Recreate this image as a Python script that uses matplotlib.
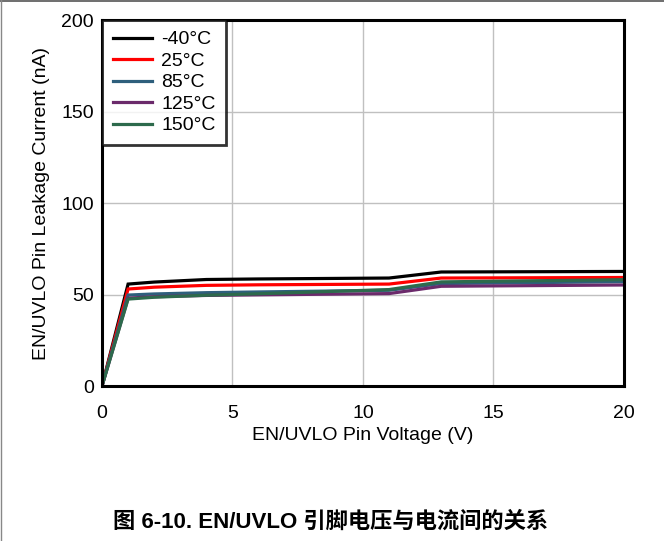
"""EN/UVLO pin leakage current versus pin voltage at several temperatures."""

import matplotlib.pyplot as plt
from matplotlib.lines import Line2D

plt.rcParams["font.family"] = ["Liberation Sans", "Noto Sans CJK SC", "DejaVu Sans"]

voltage_v = [0, 1, 2, 4, 6, 11, 13, 20]

leak_m40c = [0, 55.7, 56.8, 58.2, 58.5, 59.0, 62.3, 62.6]
leak_25c = [0, 53.0, 54.0, 55.0, 55.3, 55.7, 59.0, 59.3]
leak_85c = [0, 49.7, 50.3, 51.0, 51.4, 52.3, 56.0, 57.0]
leak_125c = [0, 48.0, 48.8, 49.5, 49.8, 50.5, 54.5, 55.2]
leak_150c = [0, 47.5, 48.5, 49.6, 50.4, 52.7, 56.9, 58.1]

series_labels = ["-40°C", "25°C", "85°C", "125°C", "150°C"]
series_colors = ["#000000", "#ff0000", "#2e5f7c", "#6b2a6b", "#2d6a4c"]

x_ticks = [0, 5, 10, 15, 20]
y_ticks = [0, 50, 100, 150, 200]

fig = plt.figure(figsize=(6.64, 5.41), dpi=100)
ax = fig.add_axes([0.1536, 0.2865, 0.786, 0.6765])

series = [leak_m40c, leak_25c, leak_85c, leak_125c, leak_150c]
for values, label, color in zip(series, series_labels, series_colors):
    ax.plot(voltage_v, values, color=color, linewidth=2.3, label=label,
            solid_joinstyle="miter")

ax.set_xlim(0, 20)
ax.set_ylim(0, 200)
ax.set_xticks(x_ticks)
ax.set_yticks(y_ticks)
ax.tick_params(axis="x", length=0, labelsize=14, pad=14)
ax.tick_params(axis="y", length=0, labelsize=14, pad=6)
ax.grid(color="#c0c0c0", linewidth=1.0)
ax.set_axisbelow(True)
for spine in ax.spines.values():
    spine.set_linewidth(2.2)

ax.set_xlabel("EN/UVLO Pin Voltage (V)", fontsize=14, labelpad=3)
ax.set_ylabel("EN/UVLO Pin Leakage Current (nA)", fontsize=14, labelpad=8)

leg = ax.legend(loc="upper left", fontsize=14, frameon=True, fancybox=False,
                borderaxespad=0, handlelength=2.0, handletextpad=0.5,
                labelspacing=0.2, borderpad=0.55)
leg.get_frame().set_edgecolor("black")
leg.get_frame().set_linewidth(2.0)

fig.text(0.498, 0.035, "图 6-10. EN/UVLO 引脚电压与电流间的关系",
         ha="center", va="center", fontsize=16, fontweight="bold")

# thin page frame along the top and left edges
fig.add_artist(Line2D([0, 1], [0.998, 0.998], color="#555555", linewidth=1.2,
                      transform=fig.transFigure))
fig.add_artist(Line2D([0.001, 0.001], [0, 1], color="#888888", linewidth=1.0,
                      transform=fig.transFigure))

fig.savefig("out.png", dpi=100)
